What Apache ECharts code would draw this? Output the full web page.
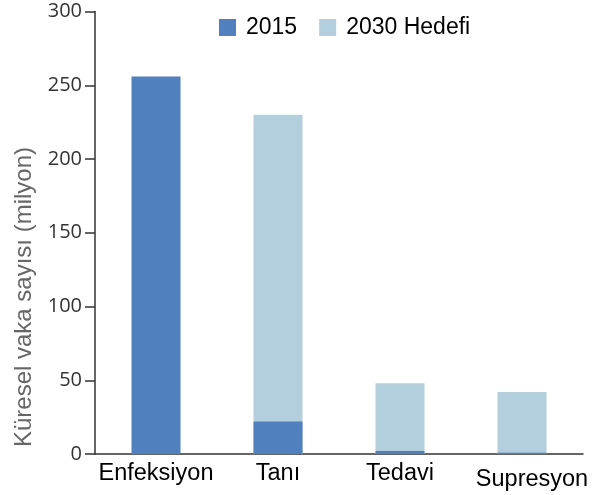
<!DOCTYPE html>
<html>
<head>
<meta charset="utf-8">
<script src="https://cdn.jsdelivr.net/npm/echarts@6/dist/echarts.min.js"></script>
<style>
  html, body { margin: 0; padding: 0; background: #fff; }
  #chart { width: 595px; height: 495px; }
</style>
</head>
<body>
<div id="chart"></div>
<script>
// 类别
const categories = ['Enfeksiyon', 'Tanı', 'Tedavi', 'Supresyon']
// 2015 数据
const values2015 = [256, 22, 2, 0.8]
// 2030 目标
const values2030 = ['-', 230, 48, 42]

const chart = echarts.init(document.getElementById('chart'))

const option = {
  animation: false,
  grid: { left: 95, right: 12, top: 11.5, bottom: 41 },
  legend: {
    data: ['2015', '2030 Hedefi'],
    top: 16,
    left: 219,
    padding: 0,
    itemWidth: 17,
    itemHeight: 17,
    itemGap: 22,
    icon: 'rect',
    textStyle: { fontFamily: 'Liberation Sans', fontSize: 23, color: '#000', padding: [-4, 0, 0, 5] }
  },
  // 纵轴标题
  graphic: [{
    type: 'text',
    x: 24,
    y: 297,
    rotation: Math.PI / 2,
    style: {
      text: 'Küresel vaka sayısı (milyon)',
      fontFamily: 'Liberation Sans',
      fontSize: 24,
      fill: '#666',
      align: 'center',
      verticalAlign: 'middle'
    }
  }],
  xAxis: {
    type: 'category',
    data: categories,
    axisLine: { lineStyle: { color: '#333', width: 1.5 } },
    axisTick: { show: false },
    axisLabel: {
      interval: 0,
      fontFamily: 'Liberation Sans',
      fontSize: 23.5,
      color: '#000',
      margin: 8,
      formatter: (v) => v === 'Supresyon' ? '{s|' + v + '}' : v,
      rich: { s: { fontFamily: 'Liberation Sans', fontSize: 23.5, color: '#000', padding: [6, 0, 0, 20] } }
    }
  },
  yAxis: {
    type: 'value',
    min: 0,
    max: 300,
    interval: 50,
    splitLine: { show: false },
    axisLine: { show: true, lineStyle: { color: '#333', width: 1.5 } },
    axisTick: { show: true, length: 10, lineStyle: { color: '#333', width: 1.5 } },
    axisLabel: { fontFamily: 'Open Sans', fontSize: 20, color: '#333', margin: 13 }
  },
  series: [
    {
      name: '2030 Hedefi',
      type: 'bar',
      data: values2030,
      barWidth: 49,
      barGap: '-100%',
      itemStyle: { color: '#b3cedc' }
    },
    {
      name: '2015',
      type: 'bar',
      data: values2015,
      barWidth: 49,
      barGap: '-100%',
      itemStyle: { color: '#5080bd' }
    }
  ]
}

chart.setOption(option)
</script>
</body>
</html>
